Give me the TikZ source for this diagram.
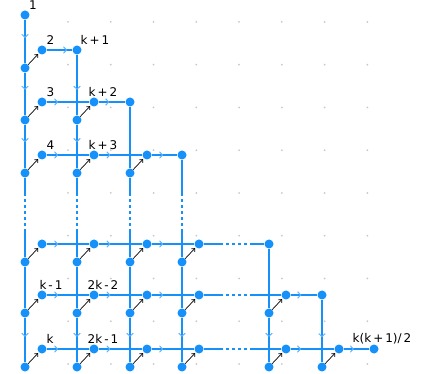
\documentclass[tikz,border=0pt]{standalone}
\usepackage{fontspec}
\setmainfont{DejaVu Sans}
\usepackage{tikz}
\usetikzlibrary{arrows.meta, positioning, decorations.markings}
\definecolor{gblue}{RGB}{22, 145, 250}
\definecolor{cblue}{RGB}{95, 178, 252}
\definecolor{dgray}{RGB}{200, 200, 200}

\begin{document}
\begin{tikzpicture}[x=1pt, y=-1pt,
    vtx/.style={circle, fill=gblue, inner sep=0pt, minimum size=9pt},
    lbl/.style={font=\fontsize{12}{14}\selectfont, inner sep=0pt},
    ln/.style={gblue, line width=2.2pt},
    gap/.style={ln, dash pattern=on 3pt off 3pt},
    diag/.style={black, line width=0.7pt, shorten >=1pt, -{Straight Barb[length=2.5pt, width=4.5pt]}},
    fl/.style={postaction={decorate, decoration={markings,
        mark=at position #1 with {\arrow[cblue, line width=1pt]{Straight Barb[length=3pt, width=6.5pt]}}}}}]
  \useasboundingbox (0,0) rectangle (426,374);
  % --- background dots ---
  \foreach \i in {0,...,8}
    \foreach \j in {0,...,8}
      \fill[dgray] (25.25+42.75*\i, 22+42.75*\j) circle (1pt);

  % --- nodes ---
  \node[vtx] (n1) at (25,15) {};
  \foreach \r/\y in {1/68, 2/120, 3/173, 4/262, 5/313, 6/367}
    \foreach \c/\x in {1/25, 2/77, 3/130, 4/182, 5/269, 6/322} {
      \ifnum\c>\r\relax\else
        \node[vtx] (l-\r-\c) at (\x,\y) {};
        \node[vtx] (u-\r-\c) at (\x+17,\y-18) {};
        \draw[diag] (l-\r-\c) -- (u-\r-\c);
      \fi
    }
  \foreach \r/\x/\y in {1/77/50, 2/130/102, 3/182/155, 4/269/244, 5/322/295, 6/374/349}
    \node[vtx] (e-\r) at (\x,\y) {};

  % gaps
  \foreach \c/\x in {1/25, 2/77, 3/130, 4/182} {
    \coordinate (gv-\c-a) at (\x,193);
    \coordinate (gv-\c-b) at (\x,232);
  }
  \foreach \r/\y in {4/244, 5/295, 6/349} {
    \coordinate (gh-\r-a) at (220,\y);
    \coordinate (gh-\r-b) at (250,\y);
  }

  % --- rows ---
  \draw[ln, fl=0.8] (u-1-1) -- (e-1);
  \draw[ln, fl=0.27] (u-2-1) -- (u-2-2);
  \draw[ln, fl=0.4] (u-2-2) -- (e-2);
  \foreach \r in {3,...,6} {
    \draw[ln, fl=0.27] (u-\r-1) -- (u-\r-2);
    \draw[ln, fl=0.27] (u-\r-2) -- (u-\r-3);
  }
  \draw[ln, fl=0.45] (u-3-3) -- (e-3);
  \foreach \r in {4,5,6} {
    \draw[ln, fl=0.27] (u-\r-3) -- (u-\r-4);
    \draw[ln] (u-\r-4) -- (gh-\r-a);
    \draw[gap] (gh-\r-a) -- (gh-\r-b);
  }
  \draw[ln] (gh-4-b) -- (e-4);
  \draw[ln] (gh-5-b) -- (u-5-5);
  \draw[ln, fl=0.4] (u-5-5) -- (e-5);
  \draw[ln] (gh-6-b) -- (u-6-5);
  \draw[ln, fl=0.24] (u-6-5) -- (u-6-6);
  \draw[ln, fl=0.4] (u-6-6) -- (e-6);

  % --- columns ---
  \draw[ln, fl=0.42] (n1) -- (l-1-1);
  \draw[ln, fl=0.4] (l-1-1) -- (l-2-1);
  \draw[ln, fl=0.4] (l-2-1) -- (l-3-1);
  \draw[ln, fl=0.58] (e-1) -- (l-2-2);
  \draw[ln, fl=0.4] (l-2-2) -- (l-3-2);
  \draw[ln] (e-2) -- (l-3-3);
  \foreach \c in {1,2,3}
    \draw[ln] (l-3-\c) -- (gv-\c-a);
  \draw[ln] (e-3) -- (gv-4-a);
  \foreach \c in {1,...,4} {
    \draw[gap] (gv-\c-a) -- (gv-\c-b);
    \draw[ln] (gv-\c-b) -- (l-4-\c);
    \draw[ln] (l-4-\c) -- (l-5-\c);
    \draw[ln, fl=0.43] (l-5-\c) -- (l-6-\c);
  }
  \draw[ln] (e-4) -- (l-5-5);
  \draw[ln, fl=0.43] (l-5-5) -- (l-6-5);
  \draw[ln, fl=0.6] (e-5) -- (l-6-6);

  % --- labels ---
  \node[lbl, above=0.5pt of n1, xshift=8pt] (t-1) {1};
  \node[lbl, above=0.5pt of u-1-1, xshift=8.5pt] (t-2) {2};
  \node[lbl, above=0.5pt of e-1, xshift=18pt] (t-k1) {k\,+\,1};
  \node[lbl, above=0.5pt of u-2-1, xshift=8.5pt] (t-3) {3};
  \node[lbl, above=0.5pt of u-2-2, xshift=9pt] (t-k2) {k\,+\,2};
  \node[lbl, above=0.5pt of u-3-1, xshift=8.5pt] (t-4) {4};
  \node[lbl, above=0.5pt of u-3-2, xshift=9pt] (t-k3) {k\,+\,3};
  \node[lbl, above=0.5pt of u-5-1, xshift=9pt] (t-km1) {k\,-\,1};
  \node[lbl, above=0.5pt of u-5-2, xshift=9pt] (t-2km2) {2k\,-\,2};
  \node[lbl, above=0.5pt of u-6-1, xshift=8pt] (t-k) {k};
  \node[lbl, above=0.5pt of u-6-2, xshift=9pt] (t-2km1) {2k\,-\,1};
  \node[lbl, above=0.5pt of e-6, xshift=8pt] (t-end) {k(k\,+\,1)/\,2};
\end{tikzpicture}
\end{document}
